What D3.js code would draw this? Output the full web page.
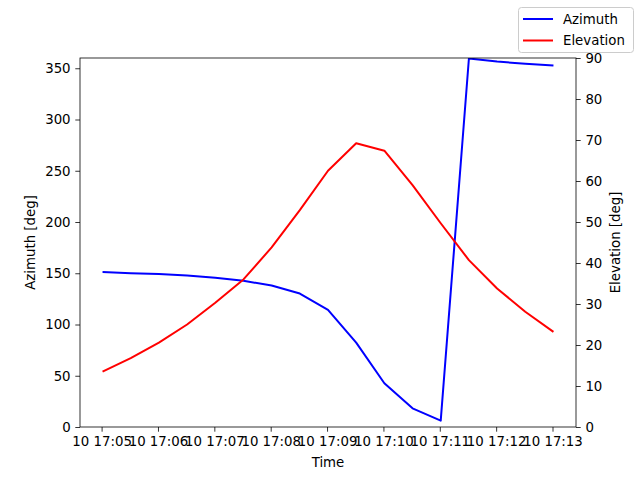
<!DOCTYPE html>
<html>
<head>
<meta charset="utf-8">
<script src="https://cdn.jsdelivr.net/npm/d3@7"></script>
<style>
  body { margin: 0; background: #fff; }
  text { font-family: "DejaVu Sans", sans-serif; }
</style>
</head>
<body>
<div id="chart"></div>
<script>
// sample times (UTC), one every 30 s
var times = ["17:05:01", "17:05:31", "17:06:01", "17:06:31", "17:07:01", "17:07:31",
             "17:08:01", "17:08:31", "17:09:01", "17:09:31", "17:10:01", "17:10:31",
             "17:11:01", "17:11:31", "17:12:01", "17:12:31", "17:13:01"];
var azimuth = [151.1, 150.1, 149.2, 147.8, 145.5, 142.6, 138.0, 130.2, 114.3,
               82.3, 42.7, 18.2, 6.2, 359.5, 356.5, 354.3, 352.6];
var elevation = [13.5, 16.8, 20.6, 25.0, 30.3, 36.0, 43.8, 52.9, 62.5,
                 69.2, 67.4, 59.0, 49.7, 40.7, 33.8, 28.1, 23.2];
var azTicks = [0, 50, 100, 150, 200, 250, 300, 350];
var elTicks = [0, 10, 20, 30, 40, 50, 60, 70, 80, 90];

var width = 640, height = 480;
// plot box (window.top is taken, so use a prefix)
var plotL = 80, plotR = 576, plotT = 58, plotB = 427;

var parse = d3.utcParse("%Y-%m-%d %H:%M:%S");
var dates = times.map(function(t) { return parse("2024-01-10 " + t); });

var t0 = +dates[0], t1 = +dates[dates.length - 1];
var pad = (t1 - t0) * 0.05;

var x = d3.scaleUtc()
          .domain([new Date(t0 - pad), new Date(t1 + pad)])
          .range([plotL, plotR]);
var yAz = d3.scaleLinear().domain([0, 360]).range([plotB, plotT]);
var yEl = d3.scaleLinear().domain([0, 90]).range([plotB, plotT]);

var svg = d3.select("#chart")
            .append("svg")
            .attr("width", width)
            .attr("height", height);

svg.append("defs").append("clipPath").attr("id", "clip")
   .append("rect").attr("x", plotL).attr("y", plotT)
   .attr("width", plotR - plotL).attr("height", plotB - plotT);

function styleAxis(g) {
  g.select(".domain").remove();
  g.selectAll("line").attr("stroke", "#000").attr("stroke-width", 0.8);
  g.selectAll("text").attr("font-size", "13.33px").attr("fill", "#000")
   .attr("font-family", "DejaVu Sans, sans-serif");
}

// x axis
svg.append("g")
   .attr("transform", "translate(0," + plotB + ")")
   .call(d3.axisBottom(x).ticks(d3.utcMinute.every(1))
           .tickFormat(d3.utcFormat("%d %H:%M"))
           .tickSizeOuter(0).tickSize(4.7).tickPadding(4.7))
   .call(styleAxis);

// left axis
svg.append("g")
   .attr("transform", "translate(" + plotL + ",0)")
   .call(d3.axisLeft(yAz).tickValues(azTicks).tickSizeOuter(0).tickSize(4.7).tickPadding(4.7))
   .call(styleAxis);

// right axis
svg.append("g")
   .attr("transform", "translate(" + plotR + ",0)")
   .call(d3.axisRight(yEl).tickValues(elTicks).tickSizeOuter(0).tickSize(4.7).tickPadding(4.7))
   .call(styleAxis);

// lines
var azLine = d3.line()
               .x(function(d, i) { return x(dates[i]); })
               .y(function(d) { return yAz(d); });
var elLine = d3.line()
               .x(function(d, i) { return x(dates[i]); })
               .y(function(d) { return yEl(d); });

var plot = svg.append("g").attr("clip-path", "url(#clip)");
plot.append("path").datum(azimuth)
    .attr("d", azLine).attr("fill", "none")
    .attr("stroke", "blue").attr("stroke-width", 2).attr("stroke-linejoin", "round");
plot.append("path").datum(elevation)
    .attr("d", elLine).attr("fill", "none")
    .attr("stroke", "red").attr("stroke-width", 2).attr("stroke-linejoin", "round");

// frame
svg.append("rect")
   .attr("x", plotL).attr("y", plotT)
   .attr("width", plotR - plotL).attr("height", plotB - plotT)
   .attr("fill", "none").attr("stroke", "#000").attr("stroke-width", 0.8);

// axis labels
svg.append("text")
   .attr("x", (plotL + plotR) / 2).attr("y", 467)
   .attr("text-anchor", "middle").attr("font-size", "13.33px")
   .text("Time");
svg.append("text")
   .attr("transform", "translate(35," + (plotT + plotB) / 2 + ") rotate(-90)")
   .attr("text-anchor", "middle").attr("font-size", "13.33px")
   .text("Azimuth [deg]");
svg.append("text")
   .attr("transform", "translate(620," + (plotT + plotB) / 2 + ") rotate(-90)")
   .attr("text-anchor", "middle").attr("font-size", "13.33px")
   .text("Elevation [deg]");

// legend
var legend = svg.append("g");
legend.append("rect")
      .attr("x", 518.5).attr("y", 7.5).attr("width", 115).attr("height", 45)
      .attr("rx", 3).attr("fill", "#fff").attr("fill-opacity", 0.8)
      .attr("stroke", "#ccc").attr("stroke-width", 1);
var items = [["Azimuth", "blue"], ["Elevation", "red"]];
items.forEach(function(it, i) {
  var yy = 19 + i * 21.5;
  legend.append("line")
        .attr("x1", 523).attr("x2", 553).attr("y1", yy).attr("y2", yy)
        .attr("stroke", it[1]).attr("stroke-width", 2);
  legend.append("text")
        .attr("x", 563).attr("y", yy + 4.8)
        .attr("font-size", "13.33px")
        .text(it[0]);
});
</script>
</body>
</html>
